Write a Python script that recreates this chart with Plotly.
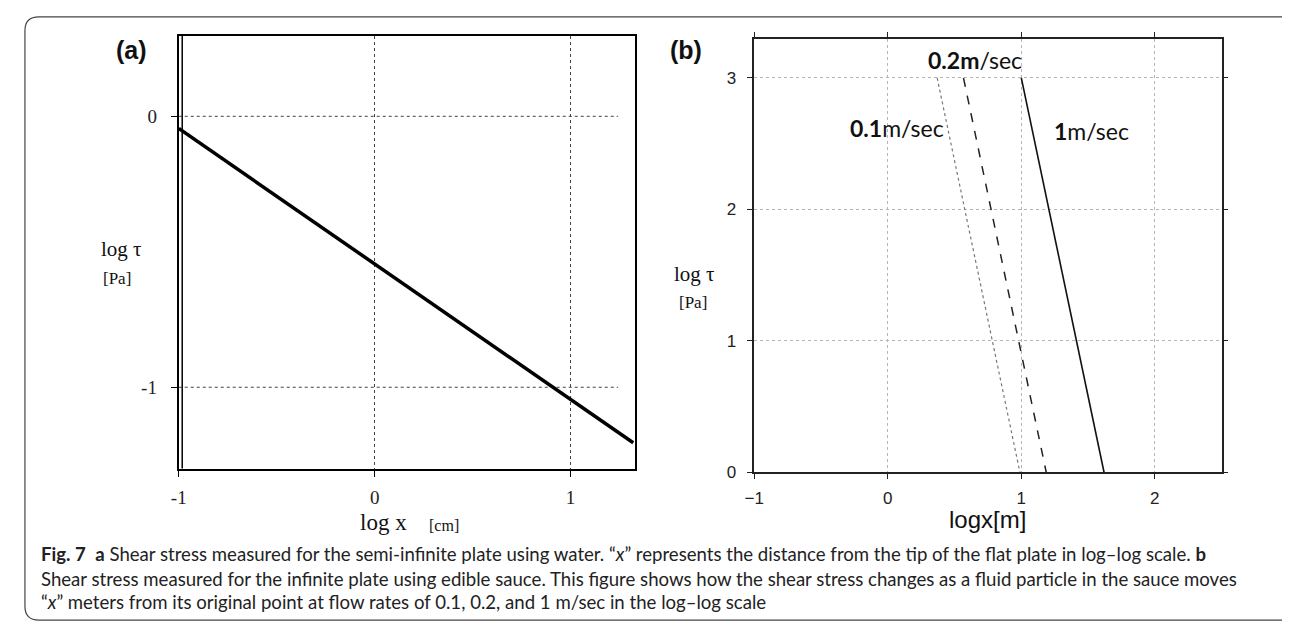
import plotly.graph_objects as go

# ---------------- data ----------------
# panel (a): semi-infinite plate, water
a_logx = [-1.0, 1.32]
a_logtau = [-0.045, -1.205]
a_xticks = [-1, 0, 1]
a_xticklabels = ["-1", "0", "1"]
a_yticks = [0, -1]
a_yticklabels = ["0", "-1"]

# panel (b): infinite plate, edible sauce
b_logtau = [3, 0]
b_logx_01 = [0.37, 0.99]
b_logx_02 = [0.567, 1.187]
b_logx_1 = [1.0, 1.62]
b_xticks = [-1, 0, 1, 2]
b_yticks = [0, 1, 2, 3]
speed_labels = ["<b>0.1</b>m/sec", "<b>0.2m</b>/sec", "<b>1</b>m/sec"]

caption_lines = [
    "<b>Fig. 7</b>  <b>a</b> Shear stress measured for the semi-infinite plate using water. \u201c<i>x</i>\u201d represents the distance from the tip of the flat plate in log\u2013log scale. <b>b</b>",
    "Shear stress measured for the infinite plate using edible sauce. This figure shows how the shear stress changes as a fluid particle in the sauce moves",
    "\u201c<i>x</i>\u201d meters from its original point at flow rates of 0.1, 0.2, and 1 m/sec in the log\u2013log scale",
]

W, H = 1290, 628


def px(x):
    return x / W


def py(y):
    return 1 - y / H


SERIF = "Liberation Serif"
SANS = "Liberation Sans"
CAL = "Lato"

fig = go.Figure()

# panel (a) line
fig.add_trace(go.Scatter(x=a_logx, y=a_logtau, mode="lines",
                         line=dict(color="black", width=3.5),
                         xaxis="x", yaxis="y", showlegend=False, hoverinfo="skip"))

# panel (b) lines
fig.add_trace(go.Scatter(x=b_logx_01, y=b_logtau, mode="lines",
                         line=dict(color="#777777", width=1.2, dash="dot"),
                         xaxis="x2", yaxis="y2", showlegend=False, hoverinfo="skip"))
fig.add_trace(go.Scatter(x=b_logx_02, y=b_logtau, mode="lines",
                         line=dict(color="#222222", width=1.5, dash="dash"),
                         xaxis="x2", yaxis="y2", showlegend=False, hoverinfo="skip"))
fig.add_trace(go.Scatter(x=b_logx_1, y=b_logtau, mode="lines",
                         line=dict(color="#111111", width=1.6),
                         xaxis="x2", yaxis="y2", showlegend=False, hoverinfo="skip"))

axis_a_common = dict(showline=True, linecolor="black", linewidth=2, mirror=True,
                     ticks="outside", ticklen=6, tickcolor="black", tickwidth=1,
                     zeroline=False, tickfont=dict(family=SERIF, size=19, color="#222"))

fig.update_layout(
    width=W, height=H,
    margin=dict(l=0, r=0, t=0, b=0),
    paper_bgcolor="white", plot_bgcolor="white",
    showlegend=False,
    xaxis=dict(domain=[px(162), px(622)], range=[-1.0, 1.33], anchor="y",
               tickvals=a_xticks, ticktext=a_xticklabels,
               showgrid=True, gridcolor="#444444", griddash="dot", gridwidth=1,
               ticklabelstandoff=5, **axis_a_common),
    yaxis=dict(domain=[py(468), py(28)], range=[-1.30, 0.298], anchor="x",
               tickvals=a_yticks, ticktext=a_yticklabels,
               showgrid=False, ticklabelstandoff=10, **axis_a_common),
    xaxis2=dict(domain=[px(742), px(1213)], range=[-1, 2.5], anchor="y2",
                tickvals=b_xticks, showline=True, linecolor="#222", linewidth=1.5,
                mirror="allticks", ticks="outside", ticklen=5, tickcolor="#222",
                showgrid=True, gridcolor="#b5b5b5", griddash="dot", gridwidth=1,
                zeroline=False, ticklabelstandoff=4,
                tickfont=dict(family=SANS, size=17, color="#222")),
    yaxis2=dict(domain=[py(472), py(31)], range=[0, 3.3], anchor="x2",
                tickvals=b_yticks, showline=True, linecolor="#222", linewidth=1.5,
                mirror="allticks", ticks="outside", ticklen=5, tickcolor="#222",
                showgrid=True, gridcolor="#b5b5b5", griddash="dot", gridwidth=1,
                zeroline=False, ticklabelstandoff=8,
                tickfont=dict(family=SANS, size=17, color="#222")),
)

shapes = []
# double left border of panel (a)
shapes.append(dict(type="line", xref="paper", yref="paper",
                   x0=px(165.5), x1=px(165.5), y0=py(468), y1=py(28),
                   line=dict(color="black", width=1.5)))
# horizontal dotted grid of panel (a), stopping short of the right border
for v in a_yticks:
    shapes.append(dict(type="line", xref="x", yref="y", x0=-1.0, x1=1.243, y0=v, y1=v,
                       line=dict(color="#444444", width=1, dash="dot"), layer="below"))
# rounded caption frame
r = 14
x0, x1, y0, y1 = 7, 1287, 9, 622
path = (f"M {px(x0 + r)},{py(y0)} L {px(x1 - r)},{py(y0)} "
        f"Q {px(x1)},{py(y0)} {px(x1)},{py(y0 + r)} "
        f"L {px(x1)},{py(y1 - r)} Q {px(x1)},{py(y1)} {px(x1 - r)},{py(y1)} "
        f"L {px(x0 + r)},{py(y1)} Q {px(x0)},{py(y1)} {px(x0)},{py(y1 - r)} "
        f"L {px(x0)},{py(y0 + r)} Q {px(x0)},{py(y0)} {px(x0 + r)},{py(y0)} Z")
shapes.append(dict(type="path", xref="paper", yref="paper", path=path,
                   line=dict(color="#444444", width=1.2), fillcolor="rgba(0,0,0,0)"))
fig.update_layout(shapes=shapes)

ann = []


def add_text(x, y, text, family, size, xanchor="center", color="#111"):
    ann.append(dict(x=px(x), y=py(y), xref="paper", yref="paper", text=text,
                    showarrow=False, xanchor=xanchor, yanchor="middle",
                    font=dict(family=family, size=size, color=color)))


# panel labels
add_text(114, 43, "<b>(a)</b>", SANS, 25)
add_text(673, 43, "<b>(b)</b>", SANS, 25)
# panel (a) axis titles
add_text(104, 245, "log \u03c4", SERIF, 21)
add_text(100, 275, "[Pa]", SERIF, 17)
add_text(368, 523, "log x", SERIF, 23)
add_text(429, 526, "[cm]", SERIF, 16)
# panel (b) axis titles
add_text(682, 270, "log \u03c4", SERIF, 21)
add_text(680, 299, "[Pa]", SERIF, 17)
add_text(977, 520, "logx[m]", SANS, 24)
# speed labels
add_text(886, 122, speed_labels[0], CAL, 23)
add_text(964, 53, speed_labels[1], CAL, 23)
add_text(1082, 125, speed_labels[2], CAL, 23)
# caption
cap_y = [555, 580, 604]
for yy, line in zip(cap_y, caption_lines):
    add_text(21, yy, line, CAL, 18.6, xanchor="left", color="#222")

fig.update_layout(annotations=ann)

fig.write_html("out.html")
